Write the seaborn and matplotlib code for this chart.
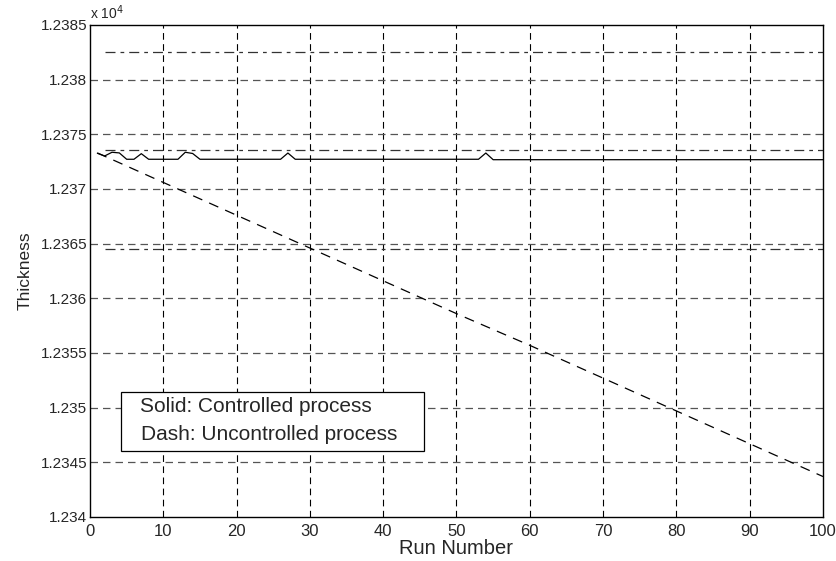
import matplotlib
matplotlib.use("Agg")
import matplotlib.pyplot as plt
from matplotlib.patches import Rectangle
from matplotlib.ticker import FuncFormatter, MultipleLocator
import numpy as np
import pandas as pd
import seaborn as sns

# Controlled process: film thickness per run (Angstrom)
controlled_runs = list(range(1, 101))
controlled_thickness = (
    [12373.27, 12373.02, 12373.36, 12373.30, 12372.72, 12372.72, 12373.23]
    + [12372.72, 12372.72, 12372.72, 12372.72, 12372.72]
    + [12373.36, 12373.25]
    + [12372.72] * 12
    + [12373.29]
    + [12372.72] * 26
    + [12373.29]
    + [12372.68] * 46
)

# Uncontrolled process: drifting thickness
uncontrolled_runs = [1, 10, 20, 30, 40, 50, 60, 70, 80, 90, 100]
uncontrolled_thickness = [12373.3, 12370.6, 12367.6, 12364.6, 12361.6, 12358.6,
                          12355.7, 12352.7, 12349.7, 12346.7, 12343.7]

# Horizontal limit lines
limit_levels = [12382.5, 12373.6, 12364.5]

legend_lines = ["Solid: Controlled process", "Dash: Uncontrolled process"]

sns.set_style("white")
plt.rcParams["font.family"] = ["Liberation Sans", "DejaVu Sans"]

fig = plt.figure(figsize=(8.37, 5.61), dpi=100)
ax = fig.add_axes([90 / 837, 1 - 517 / 561, 733 / 837, 492 / 561])

# grid
for xv in range(10, 100, 10):
    ax.axvline(xv, color="black", lw=0.8, dashes=(6, 4), zorder=1)
for yv in np.arange(12345, 12385, 5):
    ax.axhline(yv, color="#555555", lw=0.9, dashes=(6, 4), zorder=1)

for lv in limit_levels:
    ax.plot([2, 100], [lv, lv], color="#333333", lw=0.9, dashes=(8, 4, 3, 4), zorder=2)

df_c = pd.DataFrame({"run": controlled_runs, "thickness": controlled_thickness})
df_u = pd.DataFrame({"run": uncontrolled_runs, "thickness": uncontrolled_thickness})

sns.lineplot(data=df_c, x="run", y="thickness", ax=ax, color="black", lw=0.9, zorder=3)
sns.lineplot(data=df_u, x="run", y="thickness", ax=ax, color="black", lw=0.9,
             zorder=3).lines[-1].set_dashes((8, 6))

ax.set_xlim(0, 100)
ax.set_ylim(12340, 12385)
ax.xaxis.set_major_locator(MultipleLocator(10))
ax.yaxis.set_major_locator(MultipleLocator(5))
ax.yaxis.set_major_formatter(FuncFormatter(lambda v, p: f"{v / 1e4:g}"))
ax.tick_params(axis="both", direction="in", length=4, width=0.8,
               top=False, right=False)
ax.tick_params(axis="x", pad=5, labelsize=12)
ax.tick_params(axis="y", pad=2, labelsize=11)
for sp in ax.spines.values():
    sp.set_color("black")
    sp.set_linewidth(1.0)

ax.set_xlabel("Run Number", fontsize=14.5, labelpad=0)
ax.set_ylabel("Thickness", fontsize=12.5, labelpad=6)
ax.text(0.0, 1.006, "x 10$^{4}$", transform=ax.transAxes, fontsize=10,
        ha="left", va="bottom")

# annotation box
ax.add_patch(Rectangle((31 / 733, 66 / 492), 303 / 733, 59 / 492, transform=ax.transAxes,
                       facecolor="white", edgecolor="black", lw=0.9, zorder=4))
ax.text(50 / 733, (517 - 406) / 492, legend_lines[0], transform=ax.transAxes,
        fontsize=15, va="center", ha="left", zorder=5)
ax.text(51 / 733, (517 - 434) / 492, legend_lines[1], transform=ax.transAxes,
        fontsize=15, va="center", ha="left", zorder=5)

fig.savefig("out.png", dpi=100)
